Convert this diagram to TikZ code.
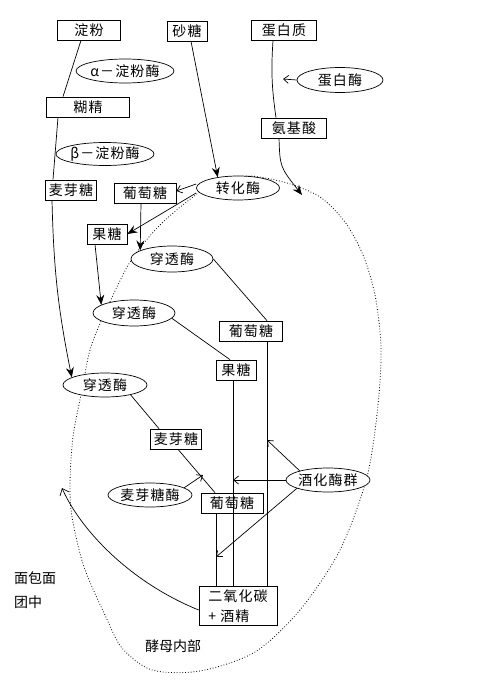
\documentclass[tikz,border=0pt]{standalone}
\usepackage{fontspec}
\setmainfont{Noto Sans CJK SC}
\newfontfamily\cjk[LetterSpace=8]{Noto Sans CJK SC}
\newfontfamily\cjkplain{Noto Sans CJK SC}
\usetikzlibrary{arrows.meta,shapes.geometric}
\tikzset{
  box/.style={draw, fill=white, rectangle, line width=0.7pt, minimum height=20pt, inner sep=1pt,
    font=\cjk\fontsize{14}{20}\selectfont},
  enz/.style={draw, fill=white, ellipse, line width=0.7pt, inner sep=0pt, minimum height=24pt,
    font=\cjk\fontsize{14}{15}\selectfont},
  plain/.style={inner sep=0pt, font=\cjkplain\fontsize{14}{24}\selectfont},
  conn/.style={line width=0.7pt},
  big/.style={-{Stealth[length=10pt,width=8pt,inset=3.5pt]}},
  small/.style={-{Straight Barb[length=5pt,width=8pt]}},
  mid/.style={-{Straight Barb[length=6pt,width=10pt]}},
  border/.style={dotted, line width=0.8pt}
}
\begin{document}
\begin{tikzpicture}[x=1pt,y=-1pt]
\useasboundingbox (0,0) rectangle (500,682);
% yeast cell border
\draw[border] plot[smooth cycle] coordinates {(250,176) (287,183) (320,197) (345,222) (363,255) (375,295) (381,347) (378,405) (367,477) (340,550) (300,610) (255,652) (200,671) (152,670) (122,648) (105,615) (84,567) (72,517) (70,483) (73,437) (82,390) (90,350) (103,317) (130,262) (160,225) (197,194) (222,181)};

% nodes
\node[box, minimum width=63pt] (dianfen) at (89,30) {淀粉};
\node[box, minimum width=40pt] (shatang) at (187,31) {砂糖};
\node[box, minimum width=65pt] (danbaizhi) at (284,30) {蛋白质};
\node[enz, minimum width=89pt] (alpha) at (125,71) {α－淀粉酶};
\node[enz, minimum width=86pt, minimum height=25pt] (danbaimei) at (340,80) {蛋白酶};
\node[box, minimum width=83pt] (hujing) at (88,107) {糊精};
\node[box, minimum width=65pt] (anjisuan) at (294,128) {氨基酸};
\node[enz, minimum width=88pt, minimum height=23pt] (beta) at (105,154) {β－淀粉酶};
\node[box, minimum width=51pt] (maiya1) at (71,190) {麦芽糖};
\node[box, minimum width=62pt] (putao1) at (145,193) {葡萄糖};
\node[enz, minimum width=83pt] (zhuanhua) at (238,188) {转化酶};
\node[box, minimum width=40pt] (guotang1) at (107,234) {果糖};
\node[enz, minimum width=82pt, minimum height=26pt] (chuantou1) at (172,259) {穿透酶};
\node[enz, minimum width=82pt, minimum height=26pt] (chuantou2) at (134,313) {穿透酶};
\node[box, minimum width=63pt] (putao2) at (251,331) {葡萄糖};
\node[box, minimum width=40pt] (guotang2) at (236,370) {果糖};
\node[enz, minimum width=84pt] (chuantou3) at (105,385) {穿透酶};
\node[box, minimum width=51pt] (maiya2) at (176,439) {麦芽糖};
\node[enz, minimum width=83pt] (maiyamei) at (150,495) {麦芽糖酶};
\node[box, minimum width=62pt] (putao3) at (232,503) {葡萄糖};
\node[enz, minimum width=74pt] (jiuhua) at (328,480) {酒化酶群};
\node[box, minimum width=78pt, minimum height=39pt, align=left] (co2) at (238,606) {二氧化碳\\+ 酒精};
\node[plain, anchor=west, align=left] (mianbao) at (14,590) {面包面\\团中};
\node[plain] (jiaomu) at (173,646) {酵母内部};

% free ends
\coordinate (pe) at (283,79);
\coordinate (aa) at (302,195);
\coordinate (mm) at (203,475);
\coordinate (j1) at (267,440);
\coordinate (j2) at (233,480);
\coordinate (j3) at (216,557);
\coordinate (dough) at (62,488);

% connectors
\draw[conn] ([xshift=-8pt]dianfen.south) -- ([xshift=-25pt]hujing.north);
\draw[conn] ([xshift=-30pt]hujing.south) -- ([xshift=-18pt]maiya1.north);
\draw[conn,big] ([xshift=-19pt]maiya1.south) to[bend right=5] (chuantou3.167);
\draw[conn,big] ([xshift=4pt]shatang.south) -- (zhuanhua.152);
\draw[conn] ([xshift=-11pt]danbaizhi.south) to[bend right=6] ([xshift=-18pt]anjisuan.north);
\draw[conn,small] (danbaimei.west) -- (pe);
\draw[conn,big] ([xshift=-15pt]anjisuan.south) .. controls (280,167) .. (aa);
\draw[conn,small] ([yshift=4pt]zhuanhua.west) -- ([yshift=2pt]putao1.east);
\draw[conn,big] ([yshift=-5pt]zhuanhua.west) -- (guotang1.east);
\draw[conn,big] ([xshift=-4pt]putao1.south) -- (chuantou1.165);
\draw[conn,big] ([xshift=-12pt]guotang1.south) -- (chuantou2.166);
\draw[conn] (chuantou1.east) -- ([xshift=16pt]putao2.north);
\draw[conn] (chuantou2.-8) -- ([xshift=-6pt]guotang2.north);
\draw[conn] (chuantou3.-21) -- ([xshift=-17pt]maiya2.north);
\draw[conn] ([xshift=2pt]maiya2.south) -- ([xshift=-17pt]putao3.north);
\draw[conn,small] (maiyamei.12) -- (mm);
\draw[conn] ([xshift=16pt]putao2.south) -- ([xshift=16pt]putao2.south |- co2.north);
\draw[conn] ([xshift=-3pt]guotang2.south) -- ([xshift=-3pt]guotang2.south |- co2.north);
\draw[conn] ([xshift=-16pt]putao3.south) -- ([xshift=-16pt]putao3.south |- co2.north);
\draw[conn,small] (jiuhua.162) -- (j1);
\draw[conn,small] (jiuhua.west) -- (j2);
\draw[conn,small] (jiuhua.195) -- (j3);
\draw[conn,mid] ([yshift=-4pt]co2.west) .. controls (125,580) and (78,525) .. (dough);
\end{tikzpicture}
\end{document}
